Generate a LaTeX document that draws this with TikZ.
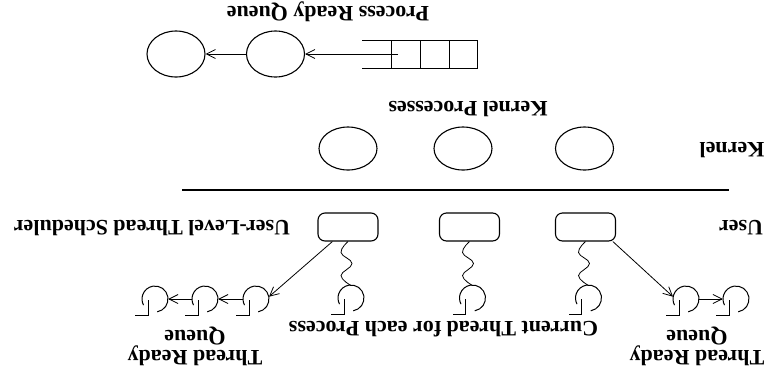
\documentclass[tikz,border=0pt]{standalone}
\usepackage{fontspec}
\setmainfont{Liberation Serif}
\usetikzlibrary{arrows.meta,shapes.geometric}
\begin{document}
\begin{tikzpicture}[x=1pt,y=-1pt,
  lbl/.style={font=\fontsize{22}{20}\selectfont\bfseries, rotate=180, anchor=base,
              inner sep=0pt, align=center},
  proc/.style={ellipse, draw, line width=1.1pt, minimum width=58pt, minimum height=46pt, inner sep=0pt},
  kproc/.style={ellipse, draw, line width=1.1pt, minimum width=58pt, minimum height=43pt, inner sep=0pt},
  ult/.style={draw, rounded corners=7pt, line width=1.1pt, minimum width=60pt,
              minimum height=28pt, inner sep=0pt},
  thd/.style={circle, minimum size=26pt, inner sep=0pt},
  link/.style={line width=0.8pt, -{Straight Barb[length=9pt,width=9pt]}},
  wave/.style={line width=0.8pt},
  thr/.pic={
    \draw[line width=1pt] (80:13) arc[start angle=80, end angle=-208, radius=13];
    \draw[line width=1pt] (-7,1) -- (-7,16) -- (-20,16);
  }
]
\useasboundingbox (0,0) rectangle (765,381);

% process ready queue
\draw[line width=1pt] (362,40.7) -- (477,40.7) -- (477,68.3) -- (362,68.3);
\foreach \xx in {391,420,449} \draw[line width=1pt] (\xx,40.7) -- (\xx,68.3);
\coordinate (qhead) at (398,54);
\node[proc] (p2) at (275.5,54) {};
\node[proc] (p1) at (176,54) {};
\draw[link] (qhead) -- (p2);
\draw[link] (p2) -- (p1);
\node[lbl] (prq) at (328,6) {Process Ready Queue};

% kernel processes
\node[lbl] (kp) at (468,101) {Kernel Processes};
\node[kproc] (k1) at (348,148.5) {};
\node[kproc] (k2) at (463,148.5) {};
\node[kproc] (k3) at (584.5,148.5) {};
\node[lbl] (kern) at (732,142) {Kernel};

% kernel / user boundary
\coordinate (divl) at (182,190);
\coordinate (divr) at (729,190);
\draw[line width=1.4pt] (divl) -- (divr);

% user-level processes and their current threads
\node[lbl] (usr) at (741,220) {User};
\node[lbl] (sched) at (152,220) {User-Level Thread Scheduler};
\node[ult] (b1) at (348,227) {};
\node[ult] (b2) at (469.5,227) {};
\node[ult] (b3) at (585.5,227) {};
\node[thd] (c1) at (351,298) {};
\node[thd] (c2) at (472.5,298) {};
\node[thd] (c3) at (588.5,298) {};
% wavy thread lines from each process box down to its current thread
\foreach \b in {b1,b2,b3}
  \draw[wave, shift={(\b.south)}] plot[smooth, tension=0.7]
    coordinates {(0,0) (-7,11) (4,22) (-7,34) (3,44)};
\node[lbl] (cur) at (443.5,321) {Current Thread for each Process};

% thread ready queues
\node[thd] (q1) at (155,299) {};
\node[thd] (q2) at (205,299) {};
\node[thd] (q3) at (256,299) {};
\node[thd] (r1) at (686,299) {};
\node[thd] (r2) at (736,299) {};
\foreach \t in {c1,c2,c3,q1,q2,q3,r1,r2} \pic at (\t) {thr};
\draw[link] (b1.223) -- (q3.10);
\draw[link] (q3.west) -- (q2.east);
\draw[link] (q2.west) -- (q1.east);
\draw[link] (b3.-28) -- (r1.170);
\draw[link] (r1.east) -- (r2.west);
\node[lbl] (trq1) at (195,330) {Thread Ready\\Queue};
\node[lbl] (trq2) at (697,330) {Thread Ready\\Queue};
\end{tikzpicture}
\end{document}
